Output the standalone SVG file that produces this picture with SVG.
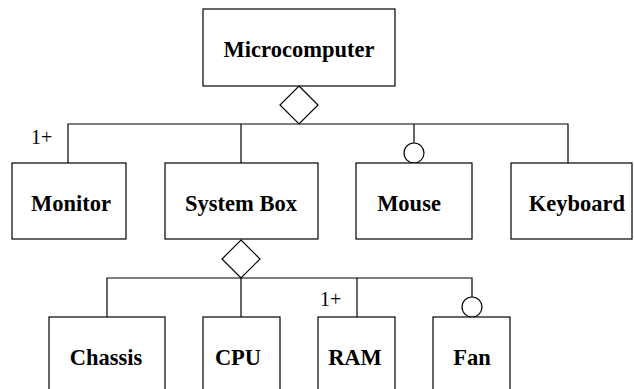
<svg xmlns="http://www.w3.org/2000/svg" width="634" height="389" viewBox="0 0 634 389">
<style>
.box{fill:#fff;stroke:#000;stroke-width:1.2}
.ln{fill:none;stroke:#000;stroke-width:1.2}
.agg{fill:#fff;stroke:#000;stroke-width:1.2}
.lbl{font-family:'Liberation Serif','Times New Roman',Times,serif;font-weight:bold;font-size:22.5px;text-anchor:middle;fill:#000}
.mult{font-family:'Liberation Serif','Times New Roman',Times,serif;font-size:20px;fill:#000}
.t2{font-family:'DejaVu Serif',serif}
</style>
<rect width="634" height="389" fill="#fff"/>
<g id="connectors">
<polyline class="ln" points="68,163 68,124 568,124 568,163"/>
<line class="ln" x1="241" y1="124" x2="241" y2="163"/>
<line class="ln" x1="414" y1="124" x2="414" y2="143"/>
<circle class="agg" cx="414" cy="153" r="10"/>
<polygon class="agg" points="299,86 318,105 299,124 280,105"/>
<polyline class="ln" points="107,317 107,278 472,278 472,297"/>
<line class="ln" x1="241" y1="278" x2="241" y2="317"/>
<line class="ln" x1="357" y1="278" x2="357" y2="317"/>
<circle class="agg" cx="472" cy="307" r="10"/>
<polygon class="agg" points="241,240 260,259 241,278 222,259"/>
<text class="mult" x="31" y="144">1+</text>
<text class="mult" x="320" y="306">1+</text>
</g>
<g id="microcomputer"><rect class="box" x="203" y="9" width="192" height="77"/><text class="lbl" x="299" y="57">Microcomputer</text></g>
<g id="monitor"><rect class="box" x="12" y="163" width="114" height="76"/><text class="lbl" x="71" y="211">Monitor</text></g>
<g id="systembox"><rect class="box" x="165" y="163" width="153" height="76"/><text class="lbl" x="241" y="211">System Box</text></g>
<g id="mouse"><rect class="box" x="356" y="163" width="116" height="76"/><text class="lbl" x="409" y="211">Mouse</text></g>
<g id="keyboard"><rect class="box" x="511" y="163" width="121" height="76"/><text class="lbl" x="577" y="211">Keyboard</text></g>
<g id="chassis"><rect class="box" x="49" y="317" width="116" height="80"/><text class="lbl" x="106" y="365">Chassis</text></g>
<g id="cpu"><rect class="box" x="203" y="317" width="77" height="80"/><text class="lbl" x="238" y="365">CPU</text></g>
<g id="ram"><rect class="box" x="318" y="317" width="77" height="80"/><text class="lbl" x="355" y="365">RAM</text></g>
<g id="fan"><rect class="box" x="433" y="317" width="77" height="80"/><text class="lbl" x="472" y="365">Fan</text></g>
</svg>
